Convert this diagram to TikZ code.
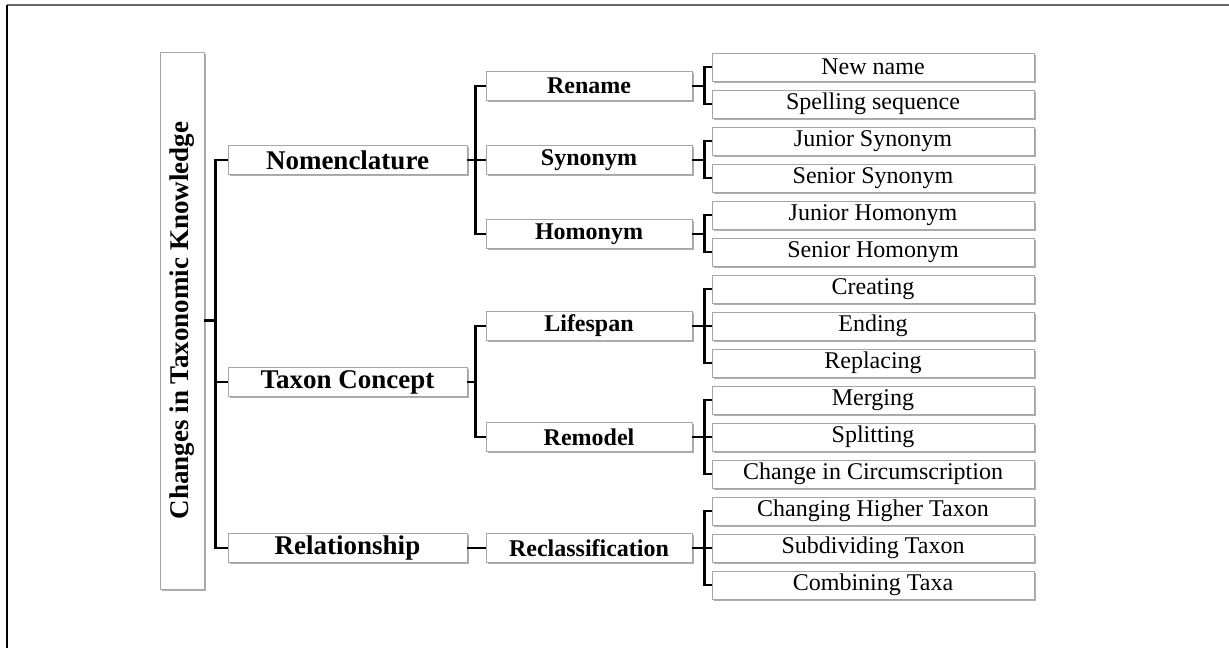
\documentclass[tikz,border=0pt]{standalone}
\usepackage{fontspec}
\setmainfont{Liberation Serif}
\usetikzlibrary{shadows}
\begin{document}
\begin{tikzpicture}[x=0.75pt,y=-0.75pt,
  box/.style={draw=gray!70, line width=0.7pt, fill=white, inner sep=0pt,
    drop shadow={shadow xshift=1.4pt, shadow yshift=-1.4pt, fill=black!45, opacity=0.7}},
  rootbox/.style={box, minimum width=402.75pt, minimum height=33pt, rotate=90,
    font=\fontsize{20.25}{24}\selectfont\bfseries},
  lone/.style={box, minimum width=179.25pt, minimum height=21.75pt,
    font=\fontsize{20.25}{24}\selectfont\bfseries},
  ltwo/.style={box, minimum width=154.5pt, minimum height=21.75pt,
    font=\fontsize{18}{21}\selectfont\bfseries},
  lthree/.style={box, minimum width=241.5pt, minimum height=21pt,
    font=\fontsize{18}{21}\selectfont},
  conn/.style={line width=1.8pt, line join=miter}
]
\useasboundingbox (0,0) rectangle (1229,648);
% frame
\draw[line width=1.5pt, black!60] (7,5.5) -- (1229,5.5);
\draw[line width=1.2pt, black] (7,5) -- (7,648);

% root
\node[rootbox] (root) at (182,320.5) {Changes in Taxonomic Knowledge};

% level 1
\node[lone] (nom) at (347.5,160) {Nomenclature};
\node[lone] (tax) at (347.5,382) {Taxon Concept};
\node[lone] (rel) at (347.5,548) {Relationship};

% level 2
\node[ltwo] (ren) at (589,86) {Rename};
\node[ltwo] (syn) at (589,160) {Synonym};
\node[ltwo] (hom) at (589,234) {Homonym};
\node[ltwo] (life) at (589,326) {Lifespan};
\node[ltwo] (remo) at (589,437) {Remodel};
\node[ltwo] (recl) at (589,548) {Reclassification};

% level 3
\node[lthree] (a1) at (873,67) {New name};
\node[lthree] (a2) at (873,104) {Spelling sequence};
\node[lthree] (a3) at (873,141) {Junior Synonym};
\node[lthree] (a4) at (873,178) {Senior Synonym};
\node[lthree] (a5) at (873,215) {Junior Homonym};
\node[lthree] (a6) at (873,252) {Senior Homonym};
\node[lthree] (a7) at (873,289) {Creating};
\node[lthree] (a8) at (873,326) {Ending};
\node[lthree] (a9) at (873,363) {Replacing};
\node[lthree] (a10) at (873,400) {Merging};
\node[lthree] (a11) at (873,437) {Splitting};
\node[lthree] (a12) at (873,474) {Change in Circumscription};
\node[lthree] (a13) at (873,511) {Changing Higher Taxon};
\node[lthree] (a14) at (873,548) {Subdividing Taxon};
\node[lthree] (a15) at (873,585) {Combining Taxa};

% connectors root -> level 1
\draw[conn] (root.south) -- ++(12,0);
\draw[conn] (nom.west) -- ++(-12,0) |- (rel.west);
\draw[conn] (tax.west) -- ++(-12,0);

% nomenclature -> level 2
\draw[conn] (nom.east) -- ++(9,0);
\draw[conn] (ren.west) -- ++(-10,0) |- (hom.west);
\draw[conn] (syn.west) -- ++(-10,0);

% taxon concept -> level 2
\draw[conn] (tax.east) -- ++(9,0);
\draw[conn] (life.west) -- ++(-10,0) |- (remo.west);

% relationship -> reclassification
\draw[conn] (rel.east) -- (recl.west);

% level 2 -> level 3
\draw[conn] (ren.east) -- ++(13,0);
\draw[conn] (a1.west) -- ++(-7,0) |- (a2.west);
\draw[conn] (syn.east) -- ++(13,0);
\draw[conn] (a3.west) -- ++(-7,0) |- (a4.west);
\draw[conn] (hom.east) -- ++(13,0);
\draw[conn] (a5.west) -- ++(-7,0) |- (a6.west);
\draw[conn] (life.east) -- ++(13,0);
\draw[conn] (a7.west) -- ++(-7,0) |- (a9.west);
\draw[conn] (a8.west) -- ++(-7,0);
\draw[conn] (remo.east) -- ++(13,0);
\draw[conn] (a10.west) -- ++(-7,0) |- (a12.west);
\draw[conn] (a11.west) -- ++(-7,0);
\draw[conn] (recl.east) -- ++(13,0);
\draw[conn] (a13.west) -- ++(-7,0) |- (a15.west);
\draw[conn] (a14.west) -- ++(-7,0);
\end{tikzpicture}
\end{document}
